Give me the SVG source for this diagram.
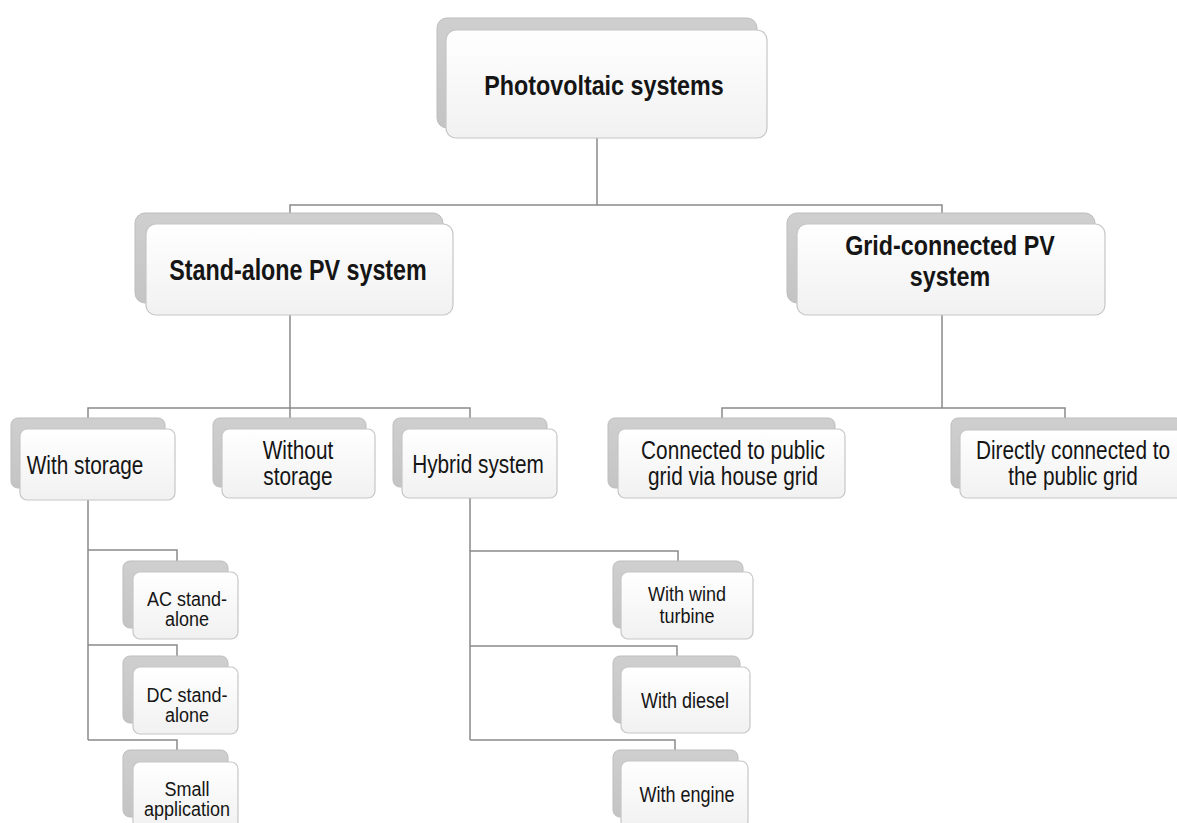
<svg xmlns="http://www.w3.org/2000/svg" width="1177" height="823" viewBox="0 0 1177 823">
<defs>
<linearGradient id="gBack" x1="0" y1="0" x2="0" y2="1">
<stop offset="0" stop-color="#cfcfcf"/>
<stop offset="1" stop-color="#c4c4c4"/>
</linearGradient>
<linearGradient id="gFront" x1="0" y1="0" x2="0" y2="1">
<stop offset="0" stop-color="#ffffff"/>
<stop offset="1" stop-color="#f1f1f1"/>
</linearGradient>
<style>
.back{fill:url(#gBack);stroke:#bdbdbd;stroke-width:1}
.front{fill:url(#gFront);stroke:#c6c6c6;stroke-width:1.2}
.conn{fill:none;stroke:#8a8a8a;stroke-width:1.5}
.t{font-family:"Liberation Sans",Arial,sans-serif;fill:#151515;text-anchor:middle}
.b{font-weight:bold;font-size:23.3px}
.m{font-size:20.8px}
.s{font-size:18px}
</style>
</defs>
<rect width="1177" height="823" fill="#ffffff"/>
<g id="connectors">
<path class="conn" d="M597,138 V205 M290,215 V205 H942 V215"/>
<path class="conn" d="M290,315 V408 M88,418 V408 H470 V418 M290,408 V418"/>
<path class="conn" d="M942,315 V408 M722,418 V408 H1065 V418"/>
<path class="conn" d="M88,500 V740 M88,550 H177 V561 M88,645 H177 V656 M88,740 H177 V750"/>
<path class="conn" d="M470,498 V740 M470,551 H678 V561 M470,646 H677 V656 M470,740 H675 V750"/>
</g>
<g id="n-pv">
<rect class="back" x="437" y="18" width="320" height="110" rx="10"/>
<rect class="front" x="446" y="30" width="321" height="108" rx="10"/>
<text class="t b" transform="translate(604,95) scale(1,1.22)">Photovoltaic systems</text>
</g>
<g id="n-standalone">
<rect class="back" x="135" y="213" width="308" height="90" rx="10"/>
<rect class="front" x="146" y="224" width="307" height="91" rx="10"/>
<text class="t b" transform="translate(298,280) scale(1,1.25)">Stand-alone PV system</text>
</g>
<g id="n-grid">
<rect class="back" x="787" y="213" width="308" height="90" rx="10"/>
<rect class="front" x="797" y="224" width="308" height="91" rx="10"/>
<text class="t b" transform="translate(950,255) scale(1,1.18)">Grid-connected PV</text>
<text class="t b" transform="translate(950,286) scale(1,1.18)">system</text>
</g>
<g id="n-withstorage">
<rect class="back" x="11" y="418" width="154" height="70" rx="7"/>
<rect class="front" x="20" y="429" width="155" height="71" rx="7"/>
<text class="t m" transform="translate(85,474) scale(1,1.28)">With storage</text>
</g>
<g id="n-withoutstorage">
<rect class="back" x="213" y="418" width="153" height="69" rx="7"/>
<rect class="front" x="222" y="429" width="153" height="69" rx="7"/>
<text class="t m" transform="translate(298,459) scale(1,1.2)">Without</text>
<text class="t m" transform="translate(298,485) scale(1,1.2)">storage</text>
</g>
<g id="n-hybrid">
<rect class="back" x="393" y="418" width="154" height="69" rx="7"/>
<rect class="front" x="402" y="429" width="155" height="69" rx="7"/>
<text class="t m" transform="translate(478,473) scale(1,1.28)">Hybrid system</text>
</g>
<g id="n-housegrid">
<rect class="back" x="608" y="418" width="227" height="70" rx="7"/>
<rect class="front" x="618" y="429" width="227" height="69" rx="7"/>
<text class="t m" transform="translate(733,459) scale(1,1.2)">Connected to public</text>
<text class="t m" transform="translate(733,485) scale(1,1.2)">grid via house grid</text>
</g>
<g id="n-direct">
<rect class="back" x="951" y="418" width="232" height="70" rx="7"/>
<rect class="front" x="960" y="430" width="230" height="68" rx="7"/>
<text class="t m" transform="translate(1073,459) scale(1,1.2)">Directly connected to</text>
<text class="t m" transform="translate(1073,485) scale(1,1.2)">the public grid</text>
</g>
<g id="n-ac">
<rect class="back" x="123" y="561" width="105" height="67" rx="7"/>
<rect class="front" x="133" y="572" width="105" height="67" rx="7"/>
<text class="t s" transform="translate(187,606) scale(1,1.1)">AC stand-</text>
<text class="t s" transform="translate(187,626) scale(1,1.1)">alone</text>
</g>
<g id="n-dc">
<rect class="back" x="123" y="656" width="105" height="67" rx="7"/>
<rect class="front" x="133" y="667" width="105" height="67" rx="7"/>
<text class="t s" transform="translate(187,702) scale(1,1.1)">DC stand-</text>
<text class="t s" transform="translate(187,722) scale(1,1.1)">alone</text>
</g>
<g id="n-small">
<rect class="back" x="123" y="750" width="105" height="67" rx="7"/>
<rect class="front" x="133" y="762" width="105" height="67" rx="7"/>
<text class="t s" transform="translate(187,796) scale(1,1.1)">Small</text>
<text class="t s" transform="translate(187,816) scale(1,1.1)">application</text>
</g>
<g id="n-wind">
<rect class="back" x="613" y="561" width="130" height="67" rx="7"/>
<rect class="front" x="621" y="572" width="132" height="67" rx="7"/>
<text class="t s" transform="translate(687,601) scale(1,1.1)">With wind</text>
<text class="t s" transform="translate(687,623) scale(1,1.1)">turbine</text>
</g>
<g id="n-diesel">
<rect class="back" x="613" y="656" width="127" height="67" rx="7"/>
<rect class="front" x="621" y="667" width="129" height="66" rx="7"/>
<text class="t s" transform="translate(685,708) scale(1,1.22)">With diesel</text>
</g>
<g id="n-engine">
<rect class="back" x="613" y="750" width="125" height="67" rx="7"/>
<rect class="front" x="621" y="761" width="127" height="67" rx="7"/>
<text class="t s" transform="translate(687,802) scale(1,1.22)">With engine</text>
</g>
</svg>
